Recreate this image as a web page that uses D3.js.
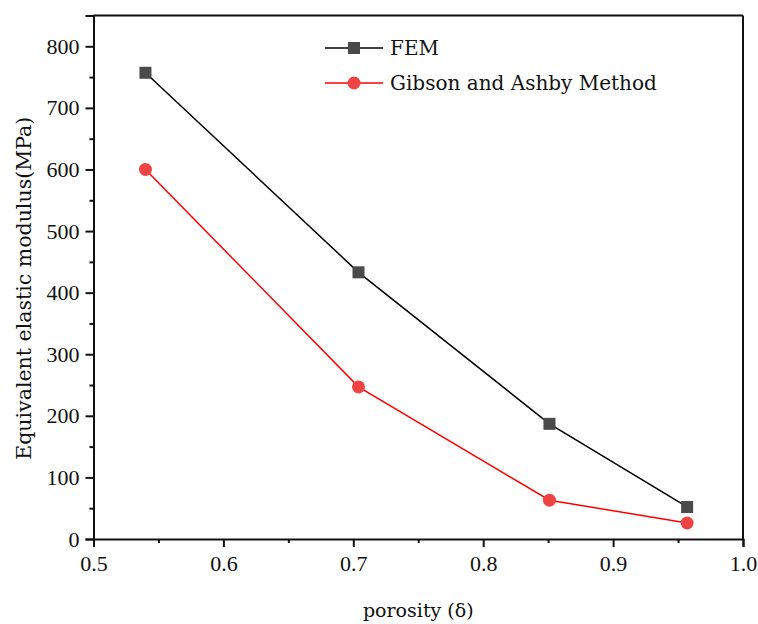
<!DOCTYPE html>
<html>
<head>
<meta charset="utf-8">
<script src="https://cdn.jsdelivr.net/npm/d3@7"></script>
<style>
  body { margin: 0; background: #fff; }
  text { font-family: "DejaVu Serif", "Liberation Serif", serif; fill: #111; }
</style>
</head>
<body>
<div id="chart"></div>
<script>
// data
const porosity = [0.540, 0.704, 0.851, 0.957];
const femValues = [757, 433, 187, 52];
const gibsonValues = [600, 247, 63, 26];
const seriesNames = ["FEM", "Gibson and Ashby Method"];
const xTicks = [0.5, 0.6, 0.7, 0.8, 0.9, 1.0];
const yTicks = [0, 100, 200, 300, 400, 500, 600, 700, 800];

const margin = { top: 15.5, right: 15, bottom: 85, left: 93.5 },
    width = 758 - margin.left - margin.right,
    height = 624 - margin.top - margin.bottom;

const svg = d3.select("#chart")
    .append("svg")
    .attr("width", 758)
    .attr("height", 624)
    .append("g")
    .attr("transform", `translate(${margin.left},${margin.top})`);

const x = d3.scaleLinear().domain([0.5, 1.0]).range([0, width]);
const y = d3.scaleLinear().domain([0, 850]).range([height, 0]);

// minor ticks
const xMinor = d3.range(0.55, 1.0, 0.1);
const yMinor = d3.range(50, 850, 100);

// x axis
svg.append("g")
    .attr("transform", `translate(0,${height})`)
    .call(d3.axisBottom(x).tickValues(xTicks).tickFormat(d3.format(".1f")).tickSizeOuter(0).tickSize(8).tickPadding(8));
svg.append("g")
    .attr("transform", `translate(0,${height})`)
    .call(d3.axisBottom(x).tickValues(xMinor).tickFormat("").tickSizeOuter(0).tickSize(4))
    .select(".domain").remove();

// y axis
svg.append("g")
    .call(d3.axisLeft(y).tickValues(yTicks).tickSizeOuter(0).tickSize(8).tickPadding(6));
svg.append("g")
    .call(d3.axisLeft(y).tickValues(yMinor).tickFormat("").tickSizeOuter(0).tickSize(4))
    .select(".domain").remove();

svg.selectAll(".tick line").attr("stroke", "#111").attr("stroke-width", 2);
svg.selectAll(".domain").attr("stroke", "#111").attr("stroke-width", 2);
svg.selectAll(".tick text")
    .style("font-family", "'Liberation Serif', serif")
    .style("font-size", "22px")
    .attr("fill", "#111");

// top and right frame
svg.append("line").attr("x1", 0).attr("x2", width).attr("y1", 0).attr("y2", 0)
    .attr("stroke", "#111").attr("stroke-width", 2);
svg.append("line").attr("x1", width).attr("x2", width).attr("y1", 0).attr("y2", height)
    .attr("stroke", "#111").attr("stroke-width", 2);

// axis titles
svg.append("text")
    .attr("x", width / 2)
    .attr("y", height + 78)
    .attr("text-anchor", "middle")
    .style("font-size", "19px")
    .text("porosity (δ)");

svg.append("text")
    .attr("transform", `translate(${-63},${height / 2 + 11}) rotate(-90)`)
    .attr("text-anchor", "middle")
    .style("font-size", "20.5px")
    .text("Equivalent elastic modulus(MPa)");

const fem = porosity.map((p, i) => ({ x: p, y: femValues[i] }));
const gibson = porosity.map((p, i) => ({ x: p, y: gibsonValues[i] }));

const line = d3.line().x(d => x(d.x)).y(d => y(d.y));

// FEM line + squares
svg.append("path")
    .datum(fem)
    .attr("fill", "none")
    .attr("stroke", "#000")
    .attr("stroke-width", 1.5)
    .attr("d", line);
svg.selectAll(".sq")
    .data(fem)
    .join("rect")
    .attr("x", d => x(d.x) - 6)
    .attr("y", d => y(d.y) - 6)
    .attr("width", 12)
    .attr("height", 12)
    .attr("fill", "#4a4a4a");

// Gibson line + circles
svg.append("path")
    .datum(gibson)
    .attr("fill", "none")
    .attr("stroke", "#ff0000")
    .attr("stroke-width", 1.5)
    .attr("d", line);
svg.selectAll(".dot")
    .data(gibson)
    .join("circle")
    .attr("cx", d => x(d.x))
    .attr("cy", d => y(d.y))
    .attr("r", 6.5)
    .attr("fill", "#ef4444");

// legend
const legend = svg.append("g").attr("transform", `translate(${325 - margin.left},${48 - margin.top})`);
const legendStyles = [
    { line: "#000", marker: "square", fill: "#4a4a4a" },
    { line: "#ff0000", marker: "circle", fill: "#ef4444" }
];
seriesNames.forEach((name, i) => {
    const g = legend.append("g").attr("transform", `translate(0,${i * 35})`);
    g.append("line").attr("x1", 0).attr("x2", 58).attr("y1", 0).attr("y2", 0)
        .attr("stroke", legendStyles[i].line).attr("stroke-width", 1.5);
    if (legendStyles[i].marker === "square") {
        g.append("rect").attr("x", 29 - 6).attr("y", -6).attr("width", 12).attr("height", 12)
            .attr("fill", legendStyles[i].fill);
    } else {
        g.append("circle").attr("cx", 29).attr("cy", 0).attr("r", 6.5).attr("fill", legendStyles[i].fill);
    }
    g.append("text")
        .attr("x", 65)
        .attr("y", 7)
        .style("font-size", "20px")
        .text(name);
});
</script>
</body>
</html>
